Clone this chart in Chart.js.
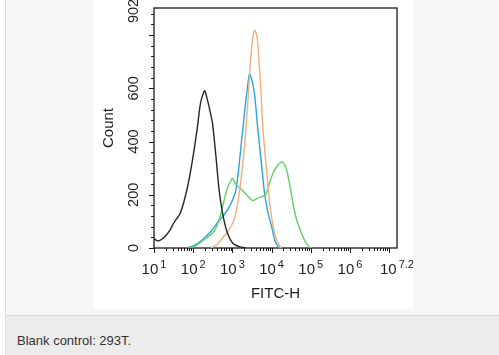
<!DOCTYPE html>
<html><head><meta charset="utf-8">
<script src="https://cdn.jsdelivr.net/npm/chart.js@4"></script>
<style>
html,body{margin:0;padding:0;width:499px;height:355px;overflow:hidden;background:#fff;font-family:"Liberation Sans",Arial,sans-serif;}
#wrap{position:absolute;left:5px;top:0;width:494px;height:355px;border-left:1px solid #dcdcdc;background:#f5f6f6;}
#fig{position:absolute;left:87px;top:0;width:320px;height:309px;background:#fff;}
#cap{position:absolute;left:0;top:315px;width:494px;height:40px;border-top:1px solid #d6d6d6;background:#ececec;}
#cap span{position:absolute;left:11px;top:17px;font-size:13px;line-height:15px;color:#333;white-space:nowrap;}
</style>
</head><body>
<div id="wrap">
  <div id="fig"><canvas id="c" width="320" height="309"></canvas></div>
  <div id="cap"><span>Blank control: 293T.</span></div>
</div>
<script>
// ---- data (x = log10 of FITC-H, y = Count) ----
const xTickExponents = ['1','2','3','4','5','6','7.2'];
const xTickValues = [1,2,3,4,5,6,7.2];
const yTickLabels = ['0','200','400','600','902'];
const yTickValues = [0,200,400,600,902];

const blankLog   = [1.00,1.05,1.12,1.20,1.28,1.40,1.50,1.67,1.84,1.97,2.10,2.19,2.29,2.34,2.40,2.49,2.58,2.66,2.75,2.86,3.01,3.18,3.35];
const blankCount = [36,30,27,33,43,65,93,131,219,320,446,547,591,570,534,471,345,219,131,62,18,5,0];

const blueLog   = [1.84,2.00,2.19,2.45,2.62,2.75,2.88,3.01,3.09,3.15,3.22,3.31,3.40,3.44,3.50,3.57,3.65,3.74,3.82,3.91,4.00,4.08,4.17,4.26];
const blueCount = [0,8,25,62,95,118,144,182,219,282,383,509,623,654,630,572,446,320,207,131,81,30,5,0];

const orangeLog   = [2.45,2.60,2.71,2.88,3.01,3.09,3.15,3.22,3.31,3.40,3.46,3.52,3.57,3.62,3.65,3.72,3.78,3.87,3.95,4.04,4.13,4.24];
const orangeCount = [0,12,30,62,93,131,182,257,383,560,700,790,818,800,762,610,446,295,169,81,30,0];

const greenLog   = [1.93,2.10,2.27,2.53,2.66,2.75,2.86,2.95,3.01,3.09,3.22,3.40,3.52,3.65,3.78,3.87,3.95,4.04,4.17,4.28,4.38,4.47,4.56,4.64,4.73,4.84,4.95,5.03];
const greenCount = [0,12,30,62,106,156,219,250,262,238,222,194,178,188,194,207,245,282,314,323,295,232,156,106,68,30,5,0];

const xTitle = 'FITC-H';
const yTitle = 'Count';

function pts(xs, ys){ return xs.map((x,i)=>({x:x,y:ys[i]})); }

const textColor = '#1e1e1e';
const FONT = '"Liberation Sans", Arial, sans-serif';

const axesPlugin = {
  id:'axesPlugin',
  beforeDatasetsDraw(chart){
    const {ctx, chartArea:a} = chart;
    ctx.save();
    ctx.strokeStyle = '#1a1a1a';
    ctx.lineWidth = 1.3;
    ctx.strokeRect(a.left, a.top, a.right-a.left, a.bottom-a.top);
    ctx.restore();
  },
  afterDraw(chart){
    const {ctx, chartArea:a, scales:{x,y}} = chart;
    ctx.save();
    ctx.strokeStyle = '#1a1a1a';
    ctx.lineWidth = 1;
    // x ticks (log decades + minors)
    for(let d=1; d<=7; d++){
      const px = Math.round(x.getPixelForValue(d))+0.5;
      ctx.beginPath(); ctx.moveTo(px,a.bottom); ctx.lineTo(px,a.bottom+5); ctx.stroke();
      for(let k=2;k<=9;k++){
        const v = d + Math.log10(k);
        if(v>7.2) break;
        const mx = Math.round(x.getPixelForValue(v))+0.5;
        ctx.beginPath(); ctx.moveTo(mx,a.bottom); ctx.lineTo(mx,a.bottom+3); ctx.stroke();
      }
    }
    // y ticks
    for(let v=0; v<=902; v+=40){
      const py = Math.round(y.getPixelForValue(v))+0.5;
      const len = (v%200===0)?5:3;
      ctx.beginPath(); ctx.moveTo(a.left,py); ctx.lineTo(a.left-len,py); ctx.stroke();
    }
    // x labels 10^n
    ctx.fillStyle = textColor;
    ctx.textBaseline = 'alphabetic';
    xTickValues.forEach((v,i)=>{
      const base = '10', sup = xTickExponents[i];
      ctx.font = '15px '+FONT;
      const wb = ctx.measureText(base).width;
      ctx.font = '11px '+FONT;
      const ws = ctx.measureText(sup).width;
      const cx = x.getPixelForValue(v);
      const start = cx - (wb+ws+2)/2;
      ctx.font = '15px '+FONT;
      ctx.textAlign = 'left';
      ctx.fillText(base, start, a.bottom+26);
      ctx.font = '11px '+FONT;
      ctx.fillText(sup, start+wb+2, a.bottom+20);
    });
    // y labels rotated
    ctx.font = '14.5px '+FONT;
    ctx.textAlign = 'center';
    ctx.textBaseline = 'middle';
    yTickValues.forEach((v,i)=>{
      let py = y.getPixelForValue(v);
      if(i===yTickValues.length-1) py += 3;
      ctx.save();
      ctx.translate(a.left-20, py);
      ctx.rotate(-Math.PI/2);
      ctx.fillText(yTickLabels[i], 0, 0);
      ctx.restore();
    });
    // axis titles
    ctx.font = '15px '+FONT;
    ctx.textAlign = 'center';
    ctx.textBaseline = 'alphabetic';
    ctx.fillText(xTitle, (a.left+a.right)/2, a.bottom+50);
    ctx.save();
    ctx.translate(a.left-45, (a.top+a.bottom)/2);
    ctx.rotate(-Math.PI/2);
    ctx.textBaseline = 'middle';
    ctx.fillText(yTitle, 0, 0);
    ctx.restore();
    ctx.restore();
  }
};

function ds(label, data, color){
  return {label, data, borderColor:color, backgroundColor:color, borderWidth:1.4,
    pointRadius:0, tension:0.25, fill:false};
}

new Chart(document.getElementById('c'), {
  type:'line',
  data:{ datasets:[
    ds('Blank control', pts(blankLog, blankCount), '#262626'),
    ds('Orange', pts(orangeLog, orangeCount), '#f2ae7a'),
    ds('Green', pts(greenLog, greenCount), '#62d062'),
    ds('Blue', pts(blueLog, blueCount), '#2ba5dc')
  ]},
  options:{
    responsive:false, animation:false,
    layout:{padding:{left:61,right:16,top:8,bottom:61}},
    plugins:{legend:{display:false}, tooltip:{enabled:false}},
    scales:{
      x:{type:'linear', min:1, max:7.2, display:false},
      y:{type:'linear', min:0, max:902, display:false}
    }
  },
  plugins:[axesPlugin]
});
</script>
</body></html>
